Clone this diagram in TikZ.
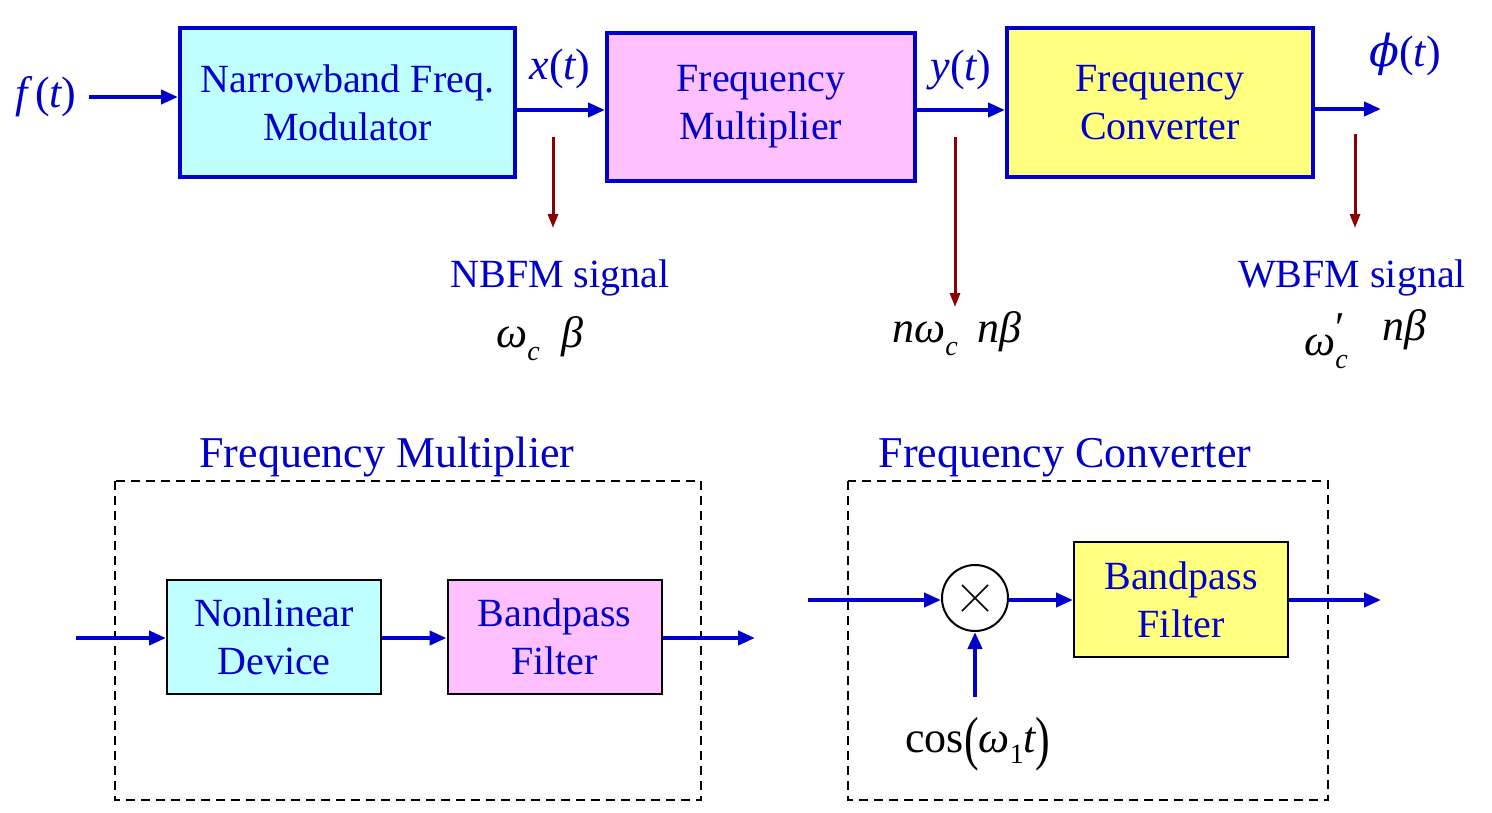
\documentclass[tikz,border=0pt]{standalone}
\usepackage{fontspec}
\setmainfont{Liberation Serif}
\newfontfamily\dvserif{DejaVu Serif}
\usetikzlibrary{arrows.meta}
\definecolor{cyanf}{RGB}{192,255,255}
\definecolor{pinkf}{RGB}{255,192,255}
\definecolor{yellowf}{RGB}{255,255,128}
\definecolor{bblue}{RGB}{0,0,204}
\definecolor{tblue}{RGB}{0,0,200}
\definecolor{dred}{RGB}{140,0,0}
\tikzset{
  topbox/.style={draw=bblue, line width=4pt, text=tblue, align=center,
    font=\fontsize{40}{48}\selectfont, inner sep=0pt},
  subbox/.style={draw=black, line width=2pt, text=tblue, align=center,
    font=\fontsize{40}{48}\selectfont, inner sep=0pt,
    minimum width=214pt, minimum height=114pt},
  sig/.style={draw=bblue, line width=4pt, -{Triangle[length=17pt,width=14pt]}},
  redarr/.style={draw=dred, line width=3pt, -{Triangle[length=14pt,width=10pt]}},
  mathlbl/.style={text=tblue, font=\fontsize{44}{48}\selectfont\itshape, inner sep=0pt, anchor=base},
  blacklbl/.style={text=black, font=\fontsize{44}{48}\selectfont\itshape, inner sep=0pt, anchor=base},
  txtlbl/.style={text=tblue, font=\fontsize{40}{48}\selectfont, inner sep=0pt, anchor=base},
  heading/.style={text=tblue, font=\fontsize{44}{50}\selectfont, inner sep=0pt, anchor=base},
  dashbox/.style={draw=black, line width=2pt, dash pattern=on 9pt off 6pt},
}
\newcommand{\subc}[1]{\raisebox{-0.3em}{\fontsize{28}{28}\selectfont #1}}
\begin{document}
\begin{tikzpicture}[x=1pt,y=-1pt]
\useasboundingbox (0,0) rectangle (1492,812);
% ---------- top chain ----------
\node[topbox, fill=cyanf, minimum width=335pt, minimum height=149pt] (nbfm) at (347.5,102.5) {Narrowband Freq.\\Modulator};
\node[topbox, fill=pinkf, minimum width=308pt, minimum height=148pt] (mult) at (761,106.5) {Frequency\\Multiplier};
\node[topbox, fill=yellowf, minimum width=306pt, minimum height=149pt] (conv) at (1160,102.5) {Frequency\\Converter};

\node[mathlbl] (ft) at (46,107) {f\,\upshape(\itshape t\upshape)};
\node[mathlbl] (xt) at (560,79) {x\upshape(\itshape t\upshape)};
\node[mathlbl] (yt) at (961,80) {y\upshape(\itshape t\upshape)};
\node[mathlbl] (phit) at (1405,66) {{\dvserif\itshape ϕ}\upshape(\itshape t\upshape)};

\coordinate (fin) at (89,97);
\coordinate (pout) at (1381,109);
\draw[sig] (fin) -- (nbfm.west |- fin);
\draw[sig] ([yshift=-7.5pt]nbfm.east) -- ([yshift=-3.5pt]mult.west);
\draw[sig] ([yshift=-3.5pt]mult.east) -- ([yshift=-7.5pt]conv.west);
\draw[sig] (conv.east |- pout) -- (pout);

\coordinate (r1s) at (553,137); \coordinate (r1e) at (553,228);
\coordinate (r2s) at (955,137); \coordinate (r2e) at (955,307);
\coordinate (r3s) at (1355,134); \coordinate (r3e) at (1355,228);
\draw[redarr] (r1s) -- (r1e);
\draw[redarr] (r2s) -- (r2e);
\draw[redarr] (r3s) -- (r3e);

\node[txtlbl] (nbsig) at (560,287) {NBFM signal};
\node[txtlbl] (wbsig) at (1352,287) {WBFM signal};
\node[blacklbl] (wcb) at (540,347) {ω\subc{c}\hspace{0.5em}β};
\node[blacklbl] (nwcb) at (957,342) {nω\subc{c}\hspace{0.45em}nβ};
\node[blacklbl] (wpc) at (1326,355) {ω\rlap{\raisebox{0.28em}{\upshape ′}}\subc{c}};
\node[blacklbl] (npb) at (1404,340) {nβ};

% ---------- frequency multiplier ----------
\node[heading] (hm) at (387,467) {Frequency Multiplier};
\draw[dashbox] (115,481) rectangle (701,800);
\node[subbox, fill=cyanf] (nld) at (274,637) {Nonlinear\\Device};
\node[subbox, fill=pinkf] (bpf1) at (554.5,637) {Bandpass\\Filter};
\coordinate (min) at (76,638);
\coordinate (mout) at (755,638);
\draw[sig] (min) -- (nld.west |- min);
\draw[sig] (nld.east |- mout) -- (bpf1.west |- mout);
\draw[sig] (bpf1.east |- mout) -- (mout);

% ---------- frequency converter ----------
\node[heading] (hc) at (1065,467) {Frequency Converter};
\draw[dashbox] (848,481) rectangle (1328,800);
\node[circle, draw=black, line width=2pt, minimum size=66pt, inner sep=0pt] (mix) at (975,598) {};
\draw[black, line width=1.6pt] ([shift={(-13pt,13pt)}]mix.center) -- ([shift={(13pt,-13pt)}]mix.center);
\draw[black, line width=1.6pt] ([shift={(-13pt,-13pt)}]mix.center) -- ([shift={(13pt,13pt)}]mix.center);
\node[subbox, fill=yellowf, minimum height=115pt] (bpf2) at (1181,599.5) {Bandpass\\Filter};
\coordinate (cin) at (808,600);
\coordinate (cout) at (1381,600);
\coordinate (lo) at (975,697);
\draw[sig] (cin) -- (mix.west |- cin);
\draw[sig] (mix.east |- cin) -- (bpf2.west |- cin);
\draw[sig] (bpf2.east |- cout) -- (cout);
\draw[sig] (lo) -- (mix.south);
\node[blacklbl] (cosl) at (978,752) {\upshape cos\raisebox{-0.14em}{\scalebox{1}[1.35]{(}}\itshape ω\raisebox{-0.25em}{\upshape\fontsize{28}{28}\selectfont 1}t\upshape\raisebox{-0.14em}{\scalebox{1}[1.35]{)}}};
\end{tikzpicture}
\end{document}
